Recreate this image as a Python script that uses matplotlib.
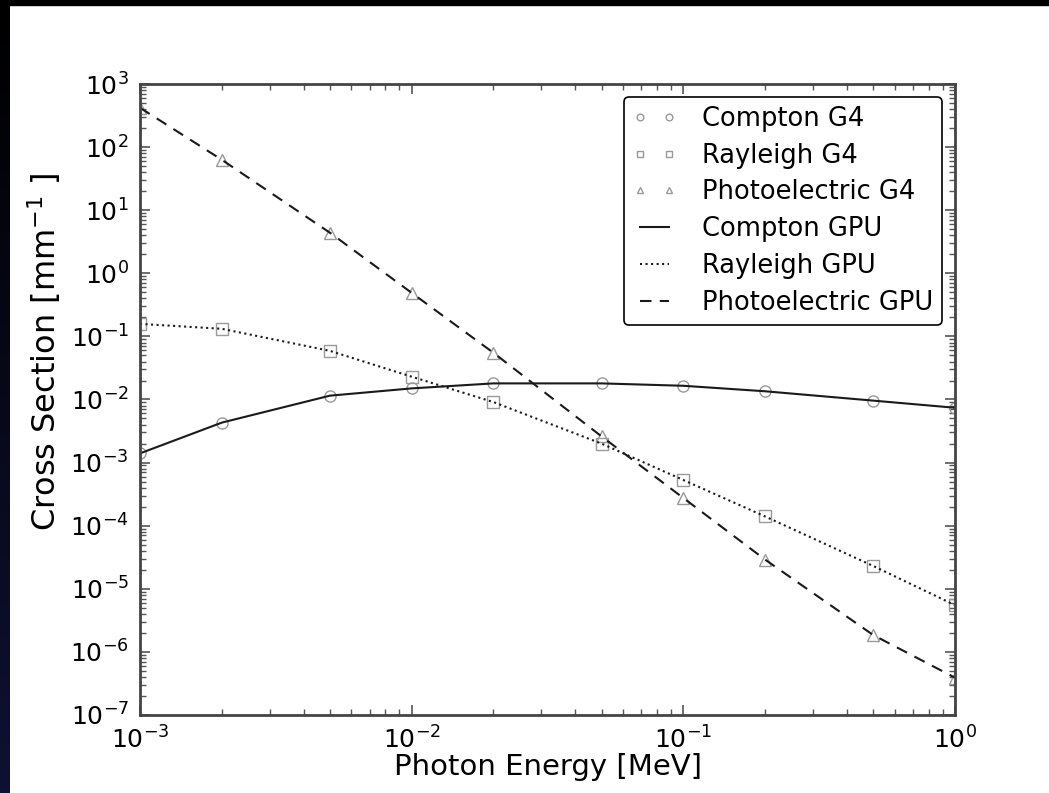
import numpy as np
import matplotlib
matplotlib.use("Agg")
import matplotlib.pyplot as plt
from matplotlib.patches import Rectangle

# energies [MeV] and cross sections [1/mm]
energy = [0.001, 0.002, 0.005, 0.01, 0.02, 0.05, 0.1, 0.2, 0.5, 1.0]
compton = [1.4e-3, 4.3e-3, 1.15e-2, 1.5e-2, 1.8e-2, 1.8e-2, 1.65e-2, 1.35e-2, 9.6e-3, 7.4e-3]
rayleigh = [0.158, 0.132, 0.059, 0.023, 9.1e-3, 2.0e-3, 5.3e-4, 1.4e-4, 2.3e-5, 5.5e-6]
photo = [420, 63, 4.4, 0.49, 0.055, 2.6e-3, 2.75e-4, 2.9e-5, 1.85e-6, 3.9e-7]

W, H = 1049, 793
fig = plt.figure(figsize=(W / 100, H / 100), dpi=100, facecolor="white")

# dark slide border (top and left)
fig.patches.append(Rectangle((0, 1 - 5 / H), 1, 5 / H, transform=fig.transFigure,
                             color="black", zorder=10))
bax = fig.add_axes([0, 0, 10 / W, 1])
grad = np.linspace(0, 1, 256).reshape(-1, 1)
bax.imshow(grad, aspect="auto", cmap=matplotlib.colors.LinearSegmentedColormap.from_list(
    "b", ["#0e1133", "#000000"]), origin="lower")
bax.axis("off")

ax = fig.add_axes([140 / W, 1 - 715 / H, (955 - 140) / W, (715 - 84) / H])

mk = dict(linestyle="none", markerfacecolor="none", markeredgecolor="#999999",
          markersize=8, markeredgewidth=1.0)
ax.plot(energy, compton, marker="o", label="Compton G4", **mk)
ax.plot(energy, rayleigh, marker="s", label="Rayleigh G4", **mk)
ax.plot(energy, photo, marker="^", label="Photoelectric G4", **mk)

ax.plot(energy, compton, "-", color="#1a1a1a", lw=1.5, label="Compton GPU")
ax.plot(energy, rayleigh, ":", color="#1a1a1a", lw=1.5, label="Rayleigh GPU")
ax.plot(energy, photo, "--", color="#1a1a1a", lw=1.5, dashes=(5.5, 4), label="Photoelectric GPU")

ax.set_xscale("log")
ax.set_yscale("log")
ax.set_xlim(1e-3, 1)
ax.set_ylim(1e-7, 1e3)

ax.tick_params(which="both", direction="in", top=True, right=True, labelsize=18, pad=8)
ax.tick_params(which="major", length=7, width=1.2, color="#555555")
ax.tick_params(which="minor", length=4, width=1, color="#555555")
ax.yaxis.set_major_locator(matplotlib.ticker.LogLocator(base=10, numticks=20))
ax.yaxis.set_minor_locator(matplotlib.ticker.LogLocator(base=10, subs=np.arange(2, 10), numticks=20))
ax.yaxis.set_minor_formatter(matplotlib.ticker.NullFormatter())
for s in ax.spines.values():
    s.set_linewidth(2)
    s.set_color("#444444")

ax.set_xlabel("Photon Energy [MeV]", fontsize=21, labelpad=0)
ax.set_ylabel("Cross Section [mm$^{-1}$ ]", fontsize=23)
ax.yaxis.set_label_coords(-0.095, 0.575)

leg = ax.legend(loc="upper right", fontsize=18.5, numpoints=2, fancybox=True,
                framealpha=1, edgecolor="black", borderaxespad=0.5, borderpad=0.35,
                markerscale=0.6, handlelength=1.7, labelspacing=0.42, handletextpad=1.0)
leg.get_frame().set_linewidth(1.2)

fig.savefig("out.png", dpi=100, facecolor="white")
